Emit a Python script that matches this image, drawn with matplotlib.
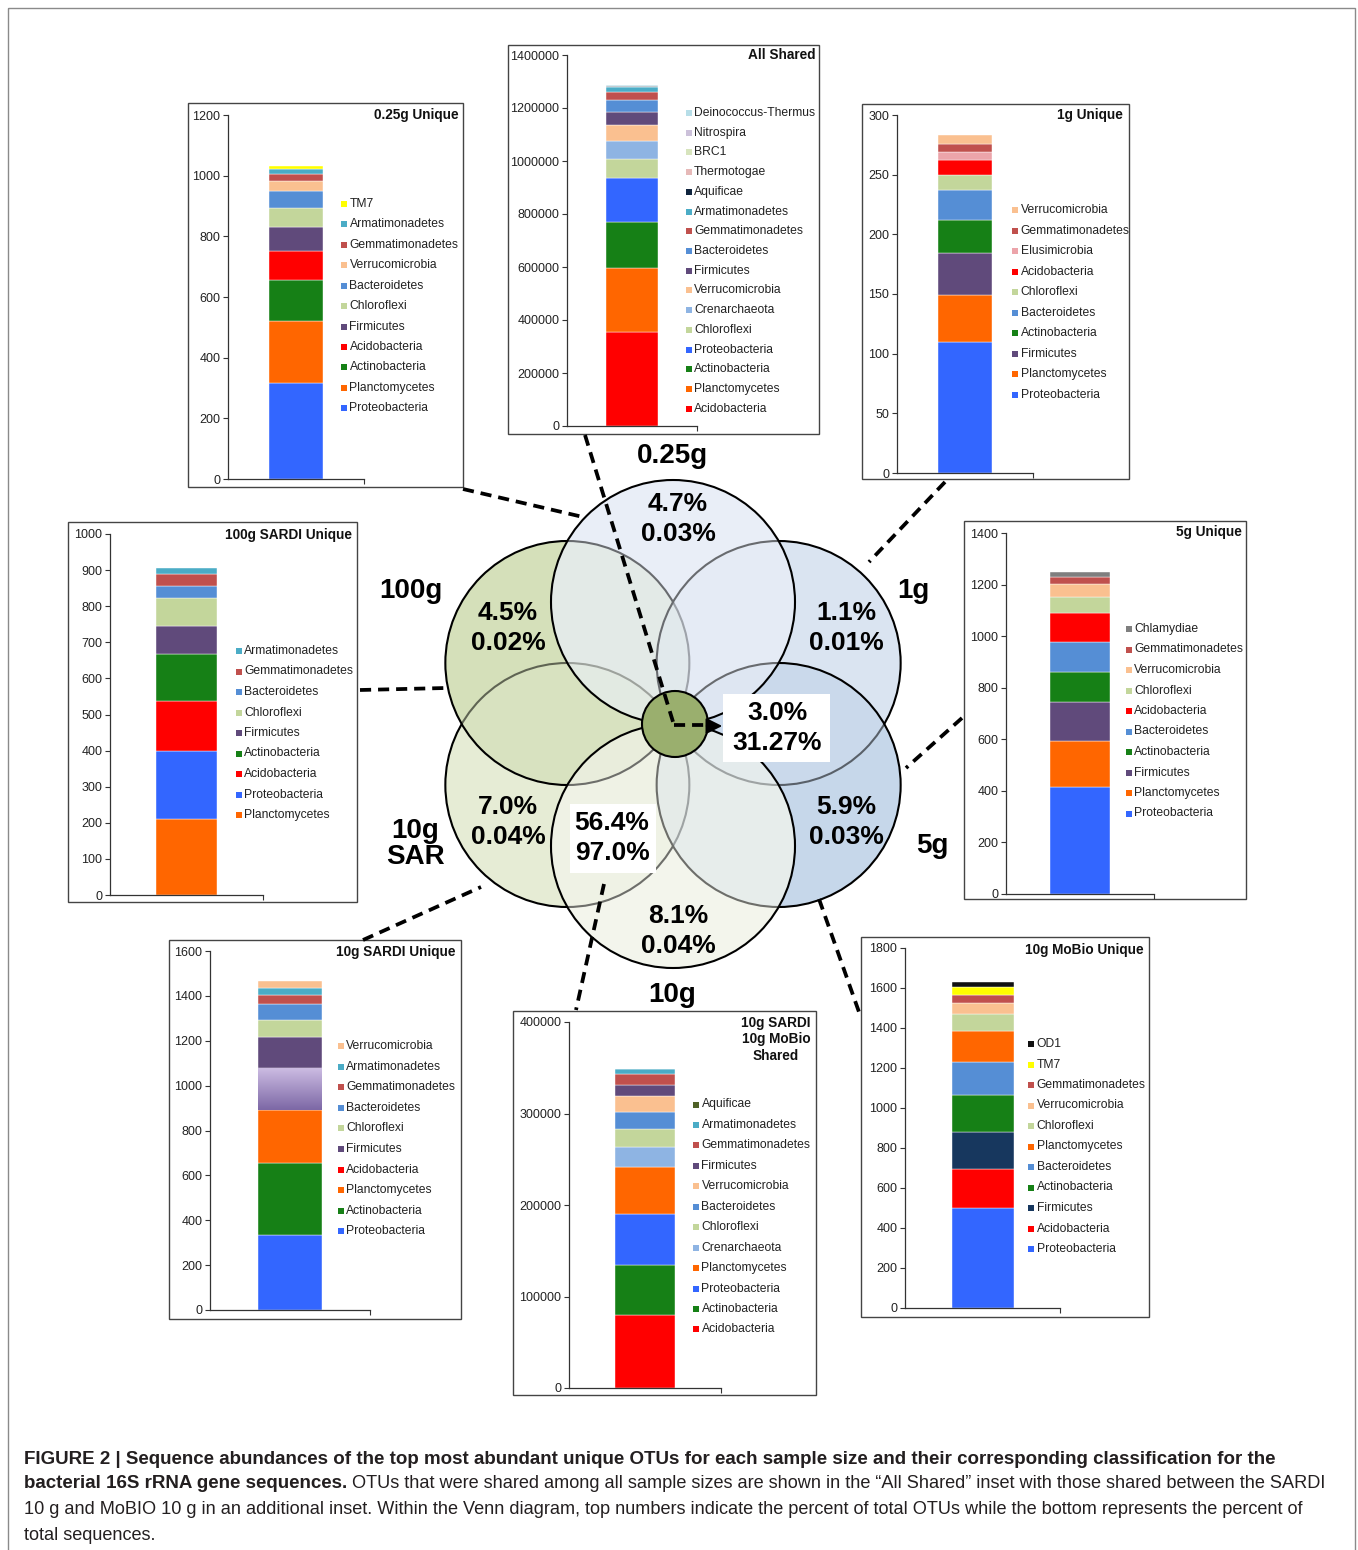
import numpy as np
import matplotlib
matplotlib.use('Agg')
import matplotlib.pyplot as plt
from matplotlib.patches import Rectangle, Circle
from matplotlib.ticker import FuncFormatter
from matplotlib.colors import LinearSegmentedColormap

plt.rcParams['font.family'] = ['Liberation Sans', 'DejaVu Sans']
plt.rcParams['lines.scale_dashes'] = False

# ---- stacked bar data (bottom -> top) ----
taxa_025 = ['Proteobacteria', 'Planctomycetes', 'Actinobacteria', 'Acidobacteria', 'Firmicutes',
            'Chloroflexi', 'Bacteroidetes', 'Verrucomicrobia', 'Gemmatimonadetes', 'Armatimonadetes', 'TM7']
vals_025 = [318, 204, 134, 96, 79, 62, 57, 33, 24, 16, 9]

taxa_all = ['Acidobacteria', 'Planctomycetes', 'Actinobacteria', 'Proteobacteria', 'Chloroflexi',
            'Crenarchaeota', 'Verrucomicrobia', 'Firmicutes', 'Bacteroidetes', 'Gemmatimonadetes',
            'Armatimonadetes', 'Aquificae', 'Thermotogae', 'BRC1', 'Nitrospira', 'Deinococcus-Thermus']
vals_all = [355000, 240000, 173600, 167400, 73000, 66600, 61600, 46600, 45200, 32800,
            17600, 2000, 1500, 1000, 800, 600]

taxa_1g = ['Proteobacteria', 'Planctomycetes', 'Firmicutes', 'Actinobacteria', 'Bacteroidetes',
           'Chloroflexi', 'Acidobacteria', 'Elusimicrobia', 'Gemmatimonadetes', 'Verrucomicrobia']
vals_1g = [110, 39, 35, 28, 25, 13, 12, 7, 7, 7]

taxa_100g = ['Planctomycetes', 'Proteobacteria', 'Acidobacteria', 'Actinobacteria', 'Firmicutes',
             'Chloroflexi', 'Bacteroidetes', 'Gemmatimonadetes', 'Armatimonadetes']
vals_100g = [210, 189, 138, 130, 78, 77, 34, 32, 19]

taxa_5g = ['Proteobacteria', 'Planctomycetes', 'Firmicutes', 'Actinobacteria', 'Bacteroidetes',
           'Acidobacteria', 'Chloroflexi', 'Verrucomicrobia', 'Gemmatimonadetes', 'Chlamydiae']
vals_5g = [415, 177, 151, 118, 116, 111, 62, 53, 28, 19]

taxa_10s = ['Proteobacteria', 'Actinobacteria', 'Planctomycetes', 'Acidobacteria', 'Firmicutes',
            'Chloroflexi', 'Bacteroidetes', 'Gemmatimonadetes', 'Armatimonadetes', 'Verrucomicrobia']
vals_10s = [335, 321, 234, 189, 137, 77, 73, 40, 30, 30]

taxa_sh10 = ['Acidobacteria', 'Actinobacteria', 'Proteobacteria', 'Planctomycetes', 'Crenarchaeota',
             'Chloroflexi', 'Bacteroidetes', 'Verrucomicrobia', 'Firmicutes', 'Gemmatimonadetes',
             'Armatimonadetes', 'Aquificae']
vals_sh10 = [79800, 54600, 56100, 51400, 21100, 19700, 19300, 17100, 12400, 12000, 4800, 500]

taxa_mob = ['Proteobacteria', 'Acidobacteria', 'Firmicutes', 'Actinobacteria', 'Bacteroidetes',
            'Planctomycetes', 'Chloroflexi', 'Verrucomicrobia', 'Gemmatimonadetes', 'TM7', 'OD1']
vals_mob = [498, 195, 189, 185, 164, 155, 83, 54, 43, 39, 26]

# ---- Venn data (order: 0.25g, 1g, 5g, 10g, 10g SAR, 100g) ----
venn_names = ['0.25g', '1g', '5g', '10g', '10g\nSAR', '100g']
venn_otu = ['4.7%', '1.1%', '5.9%', '8.1%', '7.0%', '4.5%']
venn_seq = ['0.03%', '0.01%', '0.03%', '0.04%', '0.04%', '0.02%']
core_otu, core_seq = '3.0%', '31.27%'
pair_otu, pair_seq = '56.4%', '97.0%'

COLORS = {
    'Proteobacteria': '#3366FF', 'Planctomycetes': '#FF6600', 'Actinobacteria': '#168016',
    'Acidobacteria': '#FF0000', 'Firmicutes': '#604A7B', 'Chloroflexi': '#C3D69B',
    'Bacteroidetes': '#558ED5', 'Verrucomicrobia': '#FAC090', 'Gemmatimonadetes': '#C0504D',
    'Armatimonadetes': '#4BACC6', 'TM7': '#FFFF00', 'Crenarchaeota': '#8EB4E3',
    'Aquificae': '#0F243E', 'Thermotogae': '#E6B9B8', 'BRC1': '#D7E4BD', 'Nitrospira': '#CCC1DA',
    'Deinococcus-Thermus': '#B7DEE8', 'Elusimicrobia': '#ECA4AA', 'Chlamydiae': '#7F7F7F',
    'OD1': '#111111',
}

W, H = 1358, 1550
fig = plt.figure(figsize=(W / 100, H / 100), dpi=100)
ax0 = fig.add_axes([0, 0, 1, 1])
ax0.set_xlim(0, W)
ax0.set_ylim(H, 0)
ax0.axis('off')

# outer frame
ax0.add_patch(Rectangle((8, 8), 1347, 1545, fill=False, ec='#8a8a8a', lw=1))


def inset(title, taxa, vals, ymax, step, box, axpx, leg, ttl, override=None, gradient=None):
    bx0, by0, bx1, by1 = box
    ax0.add_patch(Rectangle((bx0, by0), bx1 - bx0, by1 - by0, fill=False, ec='#444444', lw=1))
    l, t, r, b = axpx
    ax = fig.add_axes([l / W, 1 - b / H, (r - l) / W, (b - t) / H])
    ax.patch.set_alpha(0)
    override = override or {}
    cols = [override.get(n, COLORS[n]) for n in taxa]
    bottom = 0
    for n, v, c in zip(taxa, vals, cols):
        bar = ax.bar(0, v, 0.4, bottom=bottom, color=c, edgecolor='white', linewidth=0.3)[0]
        if gradient is not None and n == gradient[0]:
            cmap = LinearSegmentedColormap.from_list('g', [gradient[1], gradient[2]])
            im = ax.imshow(np.linspace(0, 1, 50).reshape(-1, 1), cmap=cmap, origin='lower',
                           extent=[bar.get_x(), bar.get_x() + bar.get_width(), bottom, bottom + v],
                           aspect='auto', zorder=bar.get_zorder() + 0.1)
            im.set_clip_path(bar)
        bottom += v
    ax.set_xlim(-0.5, 0.5)
    ax.set_ylim(0, ymax)
    ax.set_yticks(np.arange(0, ymax + 1, step))
    ax.set_xticks([0.5])
    ax.set_xticklabels([])
    ax.yaxis.set_major_formatter(FuncFormatter(lambda v, p: f'{int(v)}'))
    for s in ['top', 'right']:
        ax.spines[s].set_visible(False)
    for s in ['left', 'bottom']:
        ax.spines[s].set_color('#333333')
        ax.spines[s].set_linewidth(0.9)
    ax.tick_params(axis='both', direction='out', length=3.5, width=0.8, colors='#333333',
                   labelsize=9, pad=2)
    ax.tick_params(axis='y', labelcolor='#222222')
    # title
    tx, ty, ha = ttl
    for i, line in enumerate(title.split('\n')):
        ax0.text(tx, ty + i * 16.5, line, ha=ha, va='center', fontsize=9.8,
                 fontweight='bold', color='#111111')
    # legend (reverse of stacking order)
    mx, y0, dy = leg
    for i, (n, c) in enumerate(zip(taxa[::-1], cols[::-1])):
        y = y0 + i * dy
        ax0.add_patch(Rectangle((mx, y - 3), 6, 6, fc=c, ec='none'))
        ax0.text(mx + 8.5, y, n, fontsize=8.7, va='center', ha='left', color='#222222')
    return ax


inset('0.25g Unique', taxa_025, vals_025, 1200, 200,
      (188, 103, 463, 487), (228, 115, 364, 479), (341, 204, 20.43), (459, 115, 'right'))
inset('All Shared', taxa_all, vals_all, 1400000, 200000,
      (508, 45, 819, 434), (567, 55, 697, 426), (685.5, 113, 19.71), (815, 55, 'right'))
inset('1g Unique', taxa_1g, vals_1g, 300, 50,
      (862, 104, 1129, 479), (897, 115, 1033, 473), (1012, 210, 20.56), (1123, 115, 'right'))
inset('100g SARDI Unique', taxa_100g, vals_100g, 1000, 100,
      (68, 522, 357, 902), (110, 534, 263, 895), (235.5, 651, 20.5), (352, 535, 'right'))
inset('5g Unique', taxa_5g, vals_5g, 1400, 200,
      (964, 521, 1246, 899), (1006, 533, 1154, 894), (1125.5, 629, 20.5), (1242, 532, 'right'))
inset('10g SARDI Unique', taxa_10s, vals_10s, 1600, 200,
      (169, 940, 461, 1319), (210, 951, 370, 1310), (337.5, 1046, 20.6), (455, 952, 'right'),
      gradient=('Acidobacteria', '#7D68A6', '#CDBDE3'))
inset('10g SARDI\n10g MoBio\nShared', taxa_sh10, vals_sh10, 400000, 100000,
      (513, 1011, 816, 1395), (569, 1022, 721, 1388), (693, 1104.5, 20.45), (776, 1023, 'center'),
      override={'Aquificae': '#4F6228'})
inset('10g MoBio Unique', taxa_mob, vals_mob, 1800, 200,
      (861, 937, 1149, 1317), (905, 948, 1060, 1308), (1028, 1044, 20.5), (1144, 950, 'right'),
      override={'Firmicutes': '#17375E'})

# ---- Venn diagram ----
cx, cy, rad = 673, 724, 122
angles = [90, 30, -30, -90, -150, 150]
fills = ['#E9EEF7', '#DAE4F1', '#C6D7EA', '#F3F5EC', '#E6ECD5', '#D5E0BA']
draw_order = [4, 5, 1, 2, 3, 0]
centres = [(cx + rad * np.cos(np.deg2rad(a)), cy - rad * np.sin(np.deg2rad(a))) for a in angles]
# opaque base pass, then a translucent pass that blends overlaps and greys inner arcs
for i in draw_order:
    ax0.add_patch(Circle(centres[i], rad, fc=fills[i], ec='none', zorder=2))
for k, i in enumerate(draw_order):
    ax0.add_patch(Circle(centres[i], rad, fc=fills[i], alpha=0.45, ec='none', zorder=3 + 2 * k))
    ax0.add_patch(Circle(centres[i], rad, fill=False, ec='black', lw=1.5, zorder=4 + 2 * k))

name_pos = [(672, 456), (913, 591), (932, 846), (672, 995), (415, 844), (411, 591)]
for (x, y), n in zip(name_pos, venn_names):
    ax0.text(x, y, n, ha='center', va='center', fontsize=20, fontweight='bold',
             linespacing=1.05, zorder=30)

num_pos = [(678, 519), (846, 628), (846, 822), (678, 931), (508, 822), (508, 628)]
for (x, y), o, s in zip(num_pos, venn_otu, venn_seq):
    ax0.text(x, y, o + '\n' + s, ha='center', va='center', fontsize=19, fontweight='bold',
             linespacing=1.28, zorder=30)

# dashed connectors
dash = dict(color='black', lw=2.7, linestyle=(0, (8, 5)), zorder=25, solid_capstyle='butt')
segments = [((463, 489), (583, 517)), ((585, 435), (674, 725)), ((945, 482), (869, 562)),
            ((360, 690), (446, 688)), ((962, 718), (906, 768)), ((363, 940), (481, 887)),
            ((604, 884), (576, 1010)), ((819, 899), (859, 1012)), ((674, 725), (708, 725))]
for p, q in segments:
    ax0.plot([p[0], q[0]], [p[1], q[1]], **dash)

# central core circle
ax0.add_patch(Circle((675, 724), 33, fc='#9AAF6E', ec='black', lw=1.5, zorder=20))
ax0.annotate('', xy=(725, 726), xytext=(704, 726), zorder=26,
             arrowprops=dict(arrowstyle='-|>', color='black', lw=1.5, mutation_scale=24))

# white labelled boxes
ax0.add_patch(Rectangle((723, 694), 107, 68, fc='white', ec='none', zorder=27))
ax0.text(777, 728, core_otu + '\n' + core_seq, ha='center', va='center', fontsize=19,
         fontweight='bold', linespacing=1.28, zorder=28)
ax0.add_patch(Rectangle((570, 804), 86, 69, fc='white', ec='none', zorder=27))
ax0.text(612, 838, pair_otu + '\n' + pair_seq, ha='center', va='center', fontsize=19,
         fontweight='bold', linespacing=1.28, zorder=28)

# ---- caption ----
rend = fig.canvas.get_renderer()
cap_col = '#231F20'


def fit(txt, x, y, target, weight):
    t = ax0.text(x, y, txt, fontsize=12, fontweight=weight, va='center', ha='left', color=cap_col)
    w = t.get_window_extent(rend).width
    t.set_fontsize(12 * target / w)
    return t


t1 = fit('FIGURE 2 | Sequence abundances of the top most abundant unique OTUs for each sample size '
         'and their corresponding classification for the', 24, 1459, 1249, 'bold')
t3 = fit('10 g and MoBIO 10 g in an additional inset. Within the Venn diagram, top numbers indicate '
         'the percent of total OTUs while the bottom represents the percent of', 24, 1510, 1285, 'normal')
bsize, rsize = t1.get_fontsize(), t3.get_fontsize()
t2 = ax0.text(24, 1484, 'bacterial 16S rRNA gene sequences.', fontsize=bsize, fontweight='bold',
              va='center', ha='left', color=cap_col)
x_end = 24 + t2.get_window_extent(rend).width + 5
ax0.text(x_end, 1484, 'OTUs that were shared among all sample sizes are shown in the \u201cAll Shared\u201d '
         'inset with those shared between the SARDI', fontsize=rsize, va='center', ha='left', color=cap_col)
ax0.text(24, 1535, 'total sequences.', fontsize=rsize, va='center', ha='left', color=cap_col)

fig.savefig('out.png', dpi=100)
